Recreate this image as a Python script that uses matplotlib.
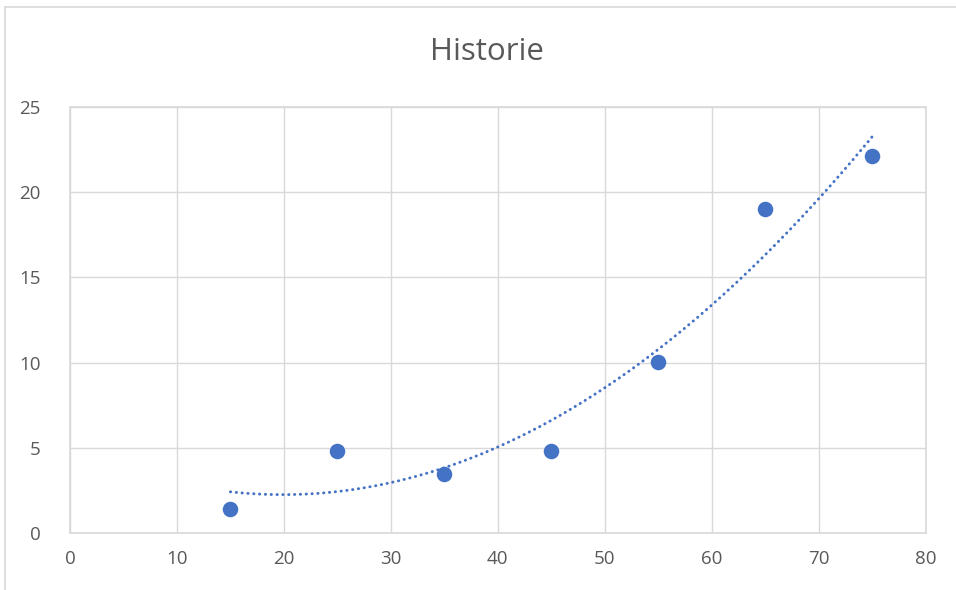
import matplotlib
matplotlib.use("Agg")
import matplotlib.pyplot as plt
import numpy as np
from matplotlib.lines import Line2D

title = "Historie"
x_vals = [15, 25, 35, 45, 55, 65, 75]
y_vals = [1.4, 4.8, 3.45, 4.8, 10.03, 19.0, 22.14]
x_ticks = [0, 10, 20, 30, 40, 50, 60, 70, 80]
y_ticks = [0, 5, 10, 15, 20, 25]

plt.rcParams['font.family'] = ['Open Sans', 'DejaVu Sans']

blue = '#4472C4'
grid_c = '#d9d9d9'
text_c = '#595959'

fig = plt.figure(figsize=(9.56, 5.9), dpi=100)
ax = fig.add_axes([70/956, 1-533/590, (925.5-70)/956, (533-107)/590])

# trendline: 2nd-order polynomial fit
coef = np.polyfit(x_vals, y_vals, 2)
xt = np.linspace(min(x_vals), max(x_vals), 200)
ax.plot(xt, np.polyval(coef, xt), color=blue, lw=2.1,
        linestyle=(0, (0.1, 1.9)), dash_capstyle='round', zorder=3)

ax.scatter(x_vals, y_vals, s=125, color=blue, zorder=4, linewidths=0)

ax.set_xlim(0, 80)
ax.set_ylim(0, 25)
ax.set_xticks(x_ticks)
ax.set_yticks(y_ticks)
ax.grid(True, color=grid_c, lw=1.0)
ax.set_axisbelow(True)
for s in ax.spines.values():
    s.set_color(grid_c)
    s.set_linewidth(1.2)
ax.tick_params(length=0, labelsize=13.5, colors=text_c, pad=12)
ax.tick_params(axis='y', pad=21)

fig.text(487/956, 1-52/590, title, ha='center', va='center', fontsize=22.5, color=text_c)

# chart border (partially cropped)
fig.add_artist(Line2D([5/956, 5/956], [0, 1-7/590], color=grid_c, lw=1.2, transform=fig.transFigure))
fig.add_artist(Line2D([5/956, 1], [1-7/590, 1-7/590], color=grid_c, lw=1.2, transform=fig.transFigure))

fig.savefig("out.png", dpi=100)
